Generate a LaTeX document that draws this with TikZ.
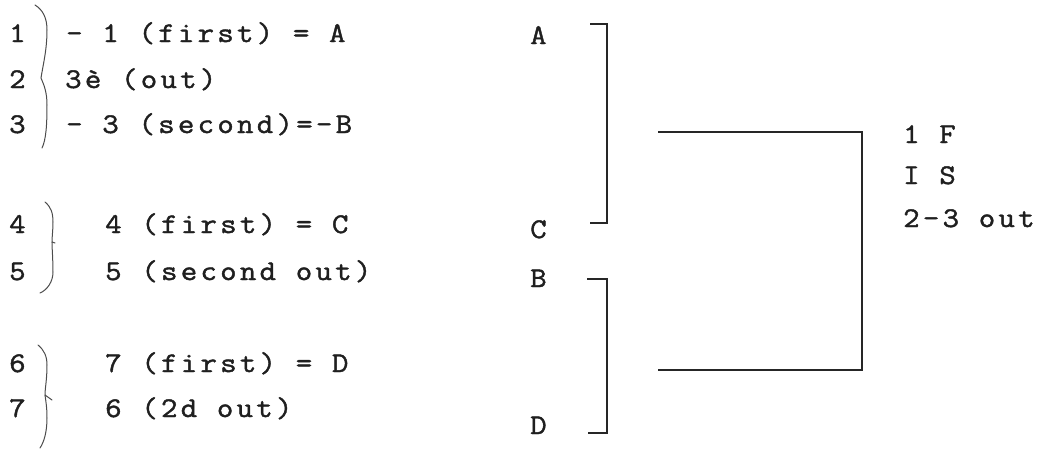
\documentclass[tikz,border=0pt]{standalone}
\usepackage{fontspec}
\newfontfamily\tw[FakeStretch=1.12,FakeBold=1.5,LetterSpace=11.5]{Latin Modern Mono}
\begin{document}
\begin{tikzpicture}[x=1pt,y=-1pt,
  tt/.style={anchor=base west,inner sep=0pt,font=\tw\fontsize{28.5}{32}\selectfont,text=black!88},
  brk/.style={line width=1.4pt,black!85},
  brace/.style={line width=1pt,black!70,line cap=round}]
\useasboundingbox (0,0) rectangle (1043,450);
% left numbers
\node[tt] (n1) at (9,42) {1};
\node[tt] (n2) at (9,88) {2};
\node[tt] (n3) at (9,133) {3};
\node[tt] (n4) at (9,233) {4};
\node[tt] (n5) at (9,280) {5};
\node[tt] (n6) at (9,372) {6};
\node[tt] (n7) at (9,417) {7};
% entries
\node[tt] (t1) at (66,42) {- 1 (first) = A};
\node[tt] (t2) at (65,88) {3è (out)};
\node[tt] (t3) at (66,133) {- 3 (second)=-B};
\node[tt] (t4) at (105,233) {4 (first) = C};
\node[tt] (t5) at (105,280) {5 (second out)};
\node[tt] (t6) at (105,372) {7 (first) = D};
\node[tt] (t7) at (105,417) {6 (2d out)};
% letter column
\node[tt] (lA) at (530,44) {A};
\node[tt] (lC) at (530,238) {C};
\node[tt] (lB) at (530,287) {B};
\node[tt] (lD) at (530,434) {D};
% right text
\node[tt] (r1) at (903,143) {1 F};
\node[tt] (r2) at (903,184) {I S};
\node[tt] (r3) at (903,227) {2-3 out};
% braces
\draw[brace] (35,5) .. controls (43,10) and (47,18) .. (47,30)
  .. controls (47,50) and (43,65) .. (41,78)
  .. controls (44,85) and (47,92) .. (47,105)
  .. controls (47,125) and (46,140) .. (42,148);
\draw[brace] (45,202) .. controls (51,207) and (53,213) .. (53,222)
  .. controls (53,230) and (52,237) .. (52,242) -- (55,243);
\draw[brace] (52,242) .. controls (52,248) and (53,260) .. (53,272)
  .. controls (53,282) and (47,290) .. (40,293);
\draw[brace] (38,345) .. controls (44,350) and (47,356) .. (47,365)
  .. controls (47,380) and (45,388) .. (45,395) -- (52,400);
\draw[brace] (45,395) .. controls (46,402) and (47,408) .. (47,418)
  .. controls (47,432) and (44,442) .. (40,448);
% brackets
\coordinate (b1t) at (590,24);
\coordinate (b1b) at (590,223);
\coordinate (b2t) at (587,279);
\coordinate (b2b) at (588,433);
\draw[brk] (b1t) -- (607,24) -- (607,223) -- (b1b);
\draw[brk] (b2t) -- (607,279) -- (607,433) -- (b2b);
% connector
\coordinate (c1) at (658,132);
\coordinate (c2) at (658,370);
\draw[brk,line width=1.2pt] (c1) -- (862,132) -- (862,370) -- (c2);
\end{tikzpicture}
\end{document}
